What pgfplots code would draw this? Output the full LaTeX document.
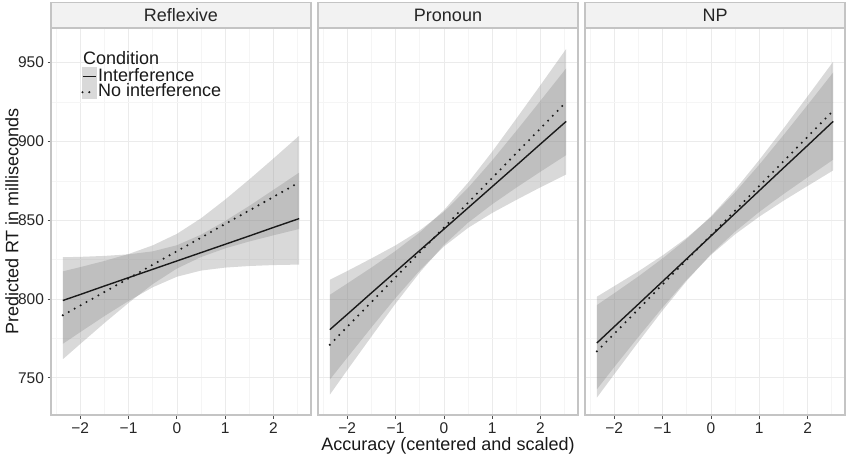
\documentclass[border=0pt]{standalone}
\usepackage{fontspec}
\setmainfont{Liberation Sans}
\usepackage{pgfplots}
\pgfplotsset{compat=1.18}
\usepackage{pgfplotstable}
\usepgfplotslibrary{fillbetween}

\definecolor{gridmaj}{RGB}{235,235,235}
\definecolor{gridmin}{RGB}{245,245,245}
\definecolor{border}{RGB}{196,196,196}
\definecolor{stripfill}{RGB}{242,242,242}
\definecolor{ribbon}{RGB}{135,135,135}
\definecolor{keyfill}{RGB}{217,217,217}
\definecolor{linecol}{RGB}{26,26,26}

% x, Interference (lo, hi, mid), No interference (lo, hi, mid)
\pgfplotstableread{
x     ilo   ihi   imid  nlo   nhi   nmid
-2.36 771.5 826.5 799.0 761.7 817.5 789.6
-2.0  778.9 826.7 802.8 771.4 820.2 795.8
-1.5  789.1 827.3 808.2 784.7 824.1 804.4
-1.0  798.7 828.3 813.5 797.5 828.5 813.0
-0.5  807.4 830.2 818.8 809.4 834.0 821.7
0.0   814.1 834.1 824.1 819.3 841.3 830.3
0.5   818.0 840.8 829.4 826.6 851.2 838.9
1.0   819.9 849.5 834.7 832.1 863.1 847.6
1.5   820.9 859.1 840.0 836.5 875.9 856.2
2.0   821.5 869.3 845.4 840.4 889.2 864.8
2.53  821.8 880.2 851.0 844.4 903.6 874.0
}\reflexive

\pgfplotstableread{
x     ilo   ihi   imid  nlo   nhi   nmid
-2.36 748.8 812.2 780.5 739.2 802.6 770.9
-2.0  762.7 817.7 790.2 754.8 809.8 782.3
-1.5  781.9 825.7 803.8 776.1 819.9 798.0
-1.0  800.6 834.0 817.3 797.1 830.5 813.8
-0.5  818.1 843.5 830.8 816.8 842.2 829.5
0.0   833.3 855.3 844.3 834.3 856.3 845.3
0.5   845.1 870.5 857.8 848.4 873.8 861.1
1.0   854.6 888.0 871.3 860.1 893.5 876.8
1.5   862.9 906.7 884.8 870.7 914.5 892.6
2.0   870.9 925.9 898.4 880.8 935.8 908.3
2.53  879.0 946.4 912.7 891.3 958.7 925.0
}\pronoun

\pgfplotstableread{
x     ilo   ihi   imid  nlo   nhi   nmid
-2.36 742.6 801.4 772.0 737.3 796.1 766.7
-2.0  756.7 808.1 782.4 752.2 803.6 777.9
-1.5  775.9 817.5 796.7 772.7 814.3 793.5
-1.0  794.6 827.6 811.1 792.7 825.7 809.2
-0.5  812.2 838.8 825.5 811.5 838.1 824.8
0.0   827.9 851.9 839.9 828.4 852.4 840.4
0.5   841.0 867.6 854.3 842.7 869.3 856.0
1.0   852.2 885.2 868.7 855.2 888.2 871.7
1.5   862.3 903.9 883.1 866.5 908.1 887.3
2.0   871.7 923.1 897.4 877.2 928.6 902.9
2.53  881.6 943.8 912.7 888.4 950.6 919.5
}\np

\pgfplotsset{
  panel/.style={
    width=260pt, height=387pt, scale only axis,
    xmin=-2.605, xmax=2.775, ymin=726.3, ymax=972,
    xtick={-2,-1,0,1,2}, xticklabels={−2,−1,0,1,2},
    ytick={750,800,850,900,950},
    minor xtick={-2.5,-1.5,-0.5,0.5,1.5,2.5},
    minor ytick={775,825,875,925},
    grid=both,
    major grid style={draw=gridmaj, line width=0.7pt},
    minor grid style={draw=gridmin, line width=0.5pt},
    axis line style={draw=border, line width=1.1pt},
    tick align=outside, major tick length=3.5pt, minor tick length=0pt,
    tick style={draw=black!70, line width=0.8pt},
    xtick pos=lower, ytick pos=left,
    ticklabel style={font=\fontsize{15.5}{15.5}\selectfont, text=black!85},
    xticklabel style={yshift=-0.5pt},
    every axis title/.style={at={(0.5,1)}, anchor=south, yshift=0pt,
      minimum width=260pt, minimum height=25pt, inner sep=0pt,
      fill=stripfill, draw=border, line width=1.1pt,
      font=\fontsize{18}{18}\selectfont, text=black!85},
  },
  band/.style={fill=ribbon, fill opacity=0.316, draw=none, forget plot},
  hid/.style={draw=none, forget plot},
  solidl/.style={linecol, line width=1.4pt},
  dotl/.style={linecol, line width=2.3pt, line cap=round, dash pattern=on 0pt off 6.8pt},
}

\begin{document}
\begin{tikzpicture}

% ---------------- Reflexive ----------------
\begin{axis}[panel, at={(51pt,44pt)}, anchor=south west, title={Reflexive},
  yticklabels={750,800,850,900,950},
  legend style={at={(axis description cs:0.117,0.894)}, anchor=north west,
    draw=none, fill=none, inner sep=0pt, outer sep=0pt, row sep=0.7pt, column sep=0pt,
    font=\fontsize{18}{18}\selectfont, text=black!90,
    nodes={text height=11pt, text depth=2pt, inner ysep=1pt, inner xsep=1.5pt}},
  legend cell align=left,
  legend image code/.code={
    \fill[keyfill, draw=none, overlay] (0pt,-7pt) rectangle (15pt,9.5pt);
    \draw[#1] (1pt,0pt) -- (14pt,0pt);
  }]
  \addplot[hid, name path=ilo] table[x=x,y=ilo] {\reflexive};
  \addplot[hid, name path=ihi] table[x=x,y=ihi] {\reflexive};
  \addplot[band] fill between[of=ilo and ihi];
  \addplot[hid, name path=nlo] table[x=x,y=nlo] {\reflexive};
  \addplot[hid, name path=nhi] table[x=x,y=nhi] {\reflexive};
  \addplot[band] fill between[of=nlo and nhi];
  \addplot[solidl] table[x=x,y=imid] {\reflexive};
  \addlegendentry{Interference}
  \addplot[dotl] table[x=x,y=nmid] {\reflexive};
  \addlegendentry{No interference}
\end{axis}

% ---------------- Pronoun ----------------
\begin{axis}[panel, at={(318pt,44pt)}, anchor=south west, title={Pronoun},
  yticklabels={}, ytick style={draw=none}]
  \addplot[hid, name path=ilo] table[x=x,y=ilo] {\pronoun};
  \addplot[hid, name path=ihi] table[x=x,y=ihi] {\pronoun};
  \addplot[band] fill between[of=ilo and ihi];
  \addplot[hid, name path=nlo] table[x=x,y=nlo] {\pronoun};
  \addplot[hid, name path=nhi] table[x=x,y=nhi] {\pronoun};
  \addplot[band] fill between[of=nlo and nhi];
  \addplot[solidl] table[x=x,y=imid] {\pronoun};
  \addplot[dotl] table[x=x,y=nmid] {\pronoun};
\end{axis}

% ---------------- NP ----------------
\begin{axis}[panel, at={(585pt,44pt)}, anchor=south west, title={NP},
  yticklabels={}, ytick style={draw=none}]
  \addplot[hid, name path=ilo] table[x=x,y=ilo] {\np};
  \addplot[hid, name path=ihi] table[x=x,y=ihi] {\np};
  \addplot[band] fill between[of=ilo and ihi];
  \addplot[hid, name path=nlo] table[x=x,y=nlo] {\np};
  \addplot[hid, name path=nhi] table[x=x,y=nhi] {\np};
  \addplot[band] fill between[of=nlo and nhi];
  \addplot[solidl] table[x=x,y=imid] {\np};
  \addplot[dotl] table[x=x,y=nmid] {\np};
\end{axis}

\node[anchor=base west, font=\fontsize{18}{18}\selectfont, text=black!90, inner sep=0pt]
  at (83pt,395pt) {Condition};
\node[rotate=90, font=\fontsize{18}{18}\selectfont, text=black!90]
  at (12pt,237.5pt) {Predicted RT in milliseconds};
\node[anchor=base, font=\fontsize{18}{18}\selectfont, text=black!90, inner sep=0pt]
  at (448pt,9pt) {Accuracy (centered and scaled)};

\pgfresetboundingbox
\path[use as bounding box] (0,0) rectangle (850pt,459pt);
\end{tikzpicture}
\end{document}
